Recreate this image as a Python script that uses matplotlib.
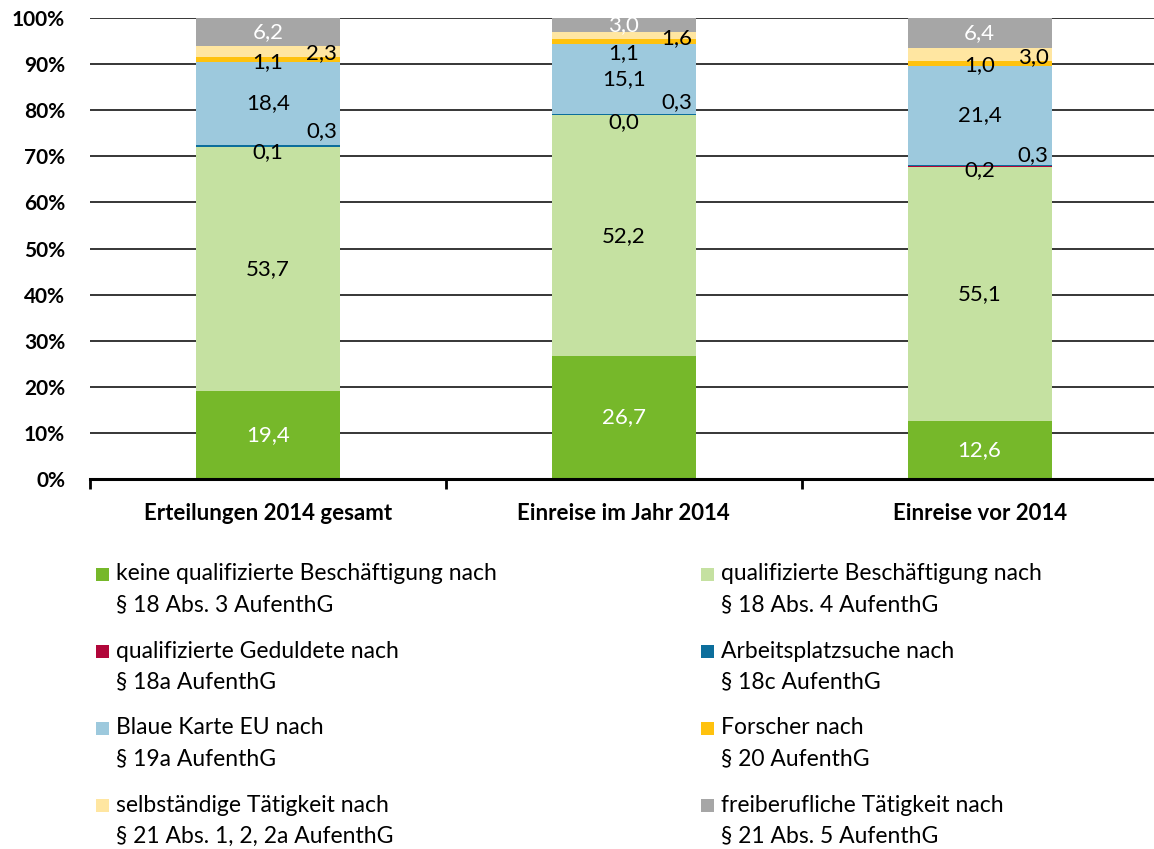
import matplotlib
matplotlib.use('Agg')
import matplotlib.pyplot as plt
from matplotlib.patches import Rectangle
import numpy as np

plt.rcParams['font.family'] = ['Lato', 'DejaVu Sans']

# Kategorien (x-Achse)
kategorien = ['Erteilungen 2014 gesamt', 'Einreise im Jahr 2014', 'Einreise vor 2014']

# Anteile in Prozent je Aufenthaltszweck (von unten nach oben)
keine_qualifiziert = [19.4, 26.7, 12.6]
qualifiziert = [53.7, 52.2, 55.1]
geduldete = [0.1, 0.0, 0.2]
arbeitsplatzsuche = [0.3, 0.3, 0.3]
blaue_karte = [18.4, 15.1, 21.4]
forscher = [1.1, 1.1, 1.0]
selbststaendig = [2.3, 1.6, 3.0]
freiberuflich = [6.2, 3.0, 6.4]

serien_namen = [
    ('keine qualifizierte Beschäftigung nach', '§ 18 Abs. 3 AufenthG'),
    ('qualifizierte Beschäftigung nach', '§ 18 Abs. 4 AufenthG'),
    ('qualifizierte Geduldete nach', '§ 18a AufenthG'),
    ('Arbeitsplatzsuche nach', '§ 18c AufenthG'),
    ('Blaue Karte EU nach', '§ 19a AufenthG'),
    ('Forscher nach', '§ 20 AufenthG'),
    ('selbständige Tätigkeit nach', '§ 21 Abs. 1, 2, 2a AufenthG'),
    ('freiberufliche Tätigkeit nach', '§ 21 Abs. 5 AufenthG'),
]
farben = ['#76B82A', '#C5E1A1', '#B1063A', '#0C6E9C', '#9DC9DD', '#FFC20E', '#FFE6A1', '#A6A6A6']
textfarben = ['white', 'black', 'black', 'black', 'black', 'black', 'black', 'white']

# Verschiebung der Beschriftungen (x in Kategorien, y in Prozentpunkten)
label_dx = [0, 0, 0, 0.15, 0, 0, 0.15, 0]
label_dy = [
    [0, 0, -1.2, 3.2, 0, -0.6, -0.4, 0],
    [0, 0, -1.5, 2.7, 0, -2.4, -0.5, 0],
    [0, 0, -0.8, 2.3, 0, -0.3, -0.6, 0],
]

daten = np.array([keine_qualifiziert, qualifiziert, geduldete, arbeitsplatzsuche,
                  blaue_karte, forscher, selbststaendig, freiberuflich])
# auf 100 % normieren (gestapelte Prozentsäulen)
anteile = daten / daten.sum(axis=0) * 100

W, H = 1154, 849
fig = plt.figure(figsize=(W / 100, H / 100), dpi=100)
ax = fig.add_axes([0.078, 0.4358, 0.922, 0.543])

x = np.arange(len(kategorien))
unten = np.zeros(len(kategorien))
for i in range(len(daten)):
    ax.bar(x, anteile[i], bottom=unten, width=0.405, color=farben[i],
           zorder=2, linewidth=0)
    for j in range(len(kategorien)):
        y = unten[j] + anteile[i][j] / 2 + label_dy[j][i]
        ax.text(x[j] + label_dx[i], y, f'{daten[i][j]:.1f}'.replace('.', ','),
                ha='center', va='center', fontsize=16, color=textfarben[i], zorder=3)
    unten += anteile[i]

ax.set_ylim(0, 100)
ax.set_xlim(-0.5, 2.49)
ax.set_yticks(np.arange(0, 101, 10))
ax.set_yticklabels([f'{v}%' for v in range(0, 101, 10)], fontweight='bold', fontsize=15)
ax.tick_params(axis='y', length=0, pad=18)
ax.yaxis.grid(True, color='black', linewidth=1.1, zorder=0)
ax.set_axisbelow(True)

ax.set_xticks([-0.5, 0.5, 1.5])
ax.set_xticklabels([])
ax.set_xticks(x, minor=True)
ax.set_xticklabels(kategorien, minor=True, fontweight='bold', fontsize=16)
ax.tick_params(axis='x', which='major', direction='out', length=7, width=2)
ax.tick_params(axis='x', which='minor', length=0, pad=17)

for s in ['top', 'right', 'left']:
    ax.spines[s].set_visible(False)
ax.spines['bottom'].set_linewidth(2.2)

# Legende zeilenweise, zweispaltig (Pixelangaben in Bildkoordinaten)
spalte_kasten = [96, 701]
spalte_text = [116, 721]
for k, (zeile1, zeile2) in enumerate(serien_namen):
    reihe, spalte = divmod(k, 2)
    y1 = 574 + 77 * reihe
    kasten = Rectangle((spalte_kasten[spalte] / W, 1 - (y1 + 7) / H), 13 / W, 13 / H,
                       transform=fig.transFigure, facecolor=farben[k], edgecolor='none')
    fig.patches.append(kasten)
    fig.text(spalte_text[spalte] / W, 1 - y1 / H, zeile1, fontsize=16.5, va='center')
    fig.text(spalte_text[spalte] / W, 1 - (y1 + 31) / H, zeile2, fontsize=16.5, va='center')

plt.savefig('out.png', dpi=100)
plt.close()
